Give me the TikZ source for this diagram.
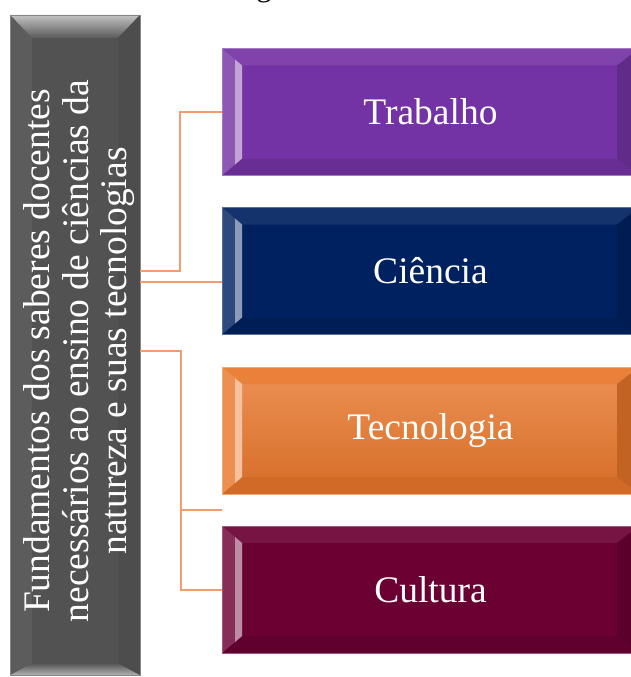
\documentclass[tikz,border=0pt]{standalone}
\usepackage{fontspec}
\usepackage{graphicx}
\setmainfont{Liberation Serif}
\usetikzlibrary{calc}
\definecolor{cTrab}{RGB}{116,51,164}
\definecolor{cCien}{RGB}{0,33,96}
\definecolor{cTec}{RGB}{232,118,42}
\definecolor{cCult}{RGB}{107,0,51}
\definecolor{cGray}{RGB}{82,82,82}
\definecolor{cLine}{RGB}{245,155,108}
\tikzset{
  bevel/.style={rectangle, inner sep=0pt, minimum width=417pt, minimum height=127pt,
    fill=#1, draw=#1!65!white, line width=0.8pt, text=white,
    font=\fontsize{37.5}{40}\selectfont,
    path picture={
      \coordinate (NW) at (path picture bounding box.north west);
      \coordinate (NE) at (path picture bounding box.north east);
      \coordinate (SW) at (path picture bounding box.south west);
      \coordinate (SE) at (path picture bounding box.south east);
      \fill[#1!92!white] (NW) -- (NE) -- ([xshift=-22pt,yshift=-17pt]NE) -- ([xshift=20pt,yshift=-17pt]NW) -- cycle;
      \fill[#1!90!black] (SW) -- (SE) -- ([xshift=-22pt,yshift=17pt]SE) -- ([xshift=20pt,yshift=17pt]SW) -- cycle;
      \fill[#1!84!black] (NE) -- (SE) -- ([xshift=-22pt,yshift=17pt]SE) -- ([xshift=-22pt,yshift=-17pt]NE) -- cycle;
      \fill[#1!82!white] (NW) -- (SW) -- ([xshift=20pt,yshift=17pt]SW) -- ([xshift=20pt,yshift=-17pt]NW) -- cycle;
      \fill[#1!45!white] ([xshift=13pt,yshift=-11pt]NW) -- ([xshift=20pt,yshift=-17pt]NW) -- ([xshift=20pt,yshift=17pt]SW) -- ([xshift=13pt,yshift=11pt]SW) -- cycle;
    }},
  grayblock/.style={rectangle, inner sep=0pt, minimum width=130pt, minimum height=660pt,
    fill=cGray, draw=cGray!70!white, line width=0.8pt,
    path picture={
      \coordinate (NW) at (path picture bounding box.north west);
      \coordinate (NE) at (path picture bounding box.north east);
      \coordinate (SW) at (path picture bounding box.south west);
      \coordinate (SE) at (path picture bounding box.south east);
      \shade[top color=cGray!35!white, bottom color=cGray!95!white] (NW) -- (NE) -- ([xshift=-22pt,yshift=-23pt]NE) -- ([xshift=22pt,yshift=-23pt]NW) -- cycle;
      \shade[top color=cGray, bottom color=cGray!45!white] (SW) -- (SE) -- ([xshift=-22pt,yshift=12pt]SE) -- ([xshift=22pt,yshift=12pt]SW) -- cycle;
      \fill[cGray!94!white] (NW) -- (SW) -- ([xshift=22pt,yshift=12pt]SW) -- ([xshift=22pt,yshift=-23pt]NW) -- cycle;
      \fill[cGray!94!black] (NE) -- (SE) -- ([xshift=-22pt,yshift=12pt]SE) -- ([xshift=-22pt,yshift=-23pt]NE) -- cycle;
    }},
  blocktext/.style={rotate=90, inner sep=0pt, text=white, align=center,
    font=\fontsize{37.5}{38.5}\selectfont},
  conn/.style={draw=cLine, line width=2pt}
}
\begin{document}
\begin{tikzpicture}[x=1pt,y=-1pt]
\useasboundingbox (0,0) rectangle (631,677);
\fill[white] (0,0) rectangle (631,677);
% cut-off caption glyph at the top, as in the reference
\begin{scope}
  \clip (0,0) rectangle (631,8);
  \node[font=\fontsize{30}{34}\selectfont, anchor=base, inner sep=0pt] (cap) at (264,-3) {g};
\end{scope}
\node[grayblock] (fund) at (75,345) {};
\node[blocktext] (fundtxt) at (79.3,351) {Fundamentos dos saberes docentes\\ necessários ao ensino de ciências da\\ natureza e suas tecnologias};
\node[bevel=cTrab] (trab) at (430.5,112) {Trabalho};
\node[bevel=cCien] (cien) at (430.5,271) {Ciência};
\node[bevel=cTec, top color=cTec!80!white, bottom color=cTec!92!black] (tec) at (430.5,430.5) {Tecnologia};
\node[bevel=cCult] (cult) at (430.5,589.5) {Cultura};
\coordinate (e1) at ($(trab.west)+(-42pt,0pt)$);
\coordinate (e2) at ($(cult.west)+(-41pt,0pt)$);
\coordinate (gap) at ($(tec.south west)!0.5!(cult.north west)$);
\coordinate (s3) at (140,351);
\draw[conn] (fund.east |- cien.west) -| (e1) -- (trab.west);
\draw[conn] ([yshift=-11pt]fund.east |- cien.west) -- ([yshift=-11pt]cien.west);
\draw[conn] (fund.east |- s3) -| (e2) -- (cult.west);
\draw[conn] (gap -| e2) -- (gap);
\end{tikzpicture}
\end{document}
